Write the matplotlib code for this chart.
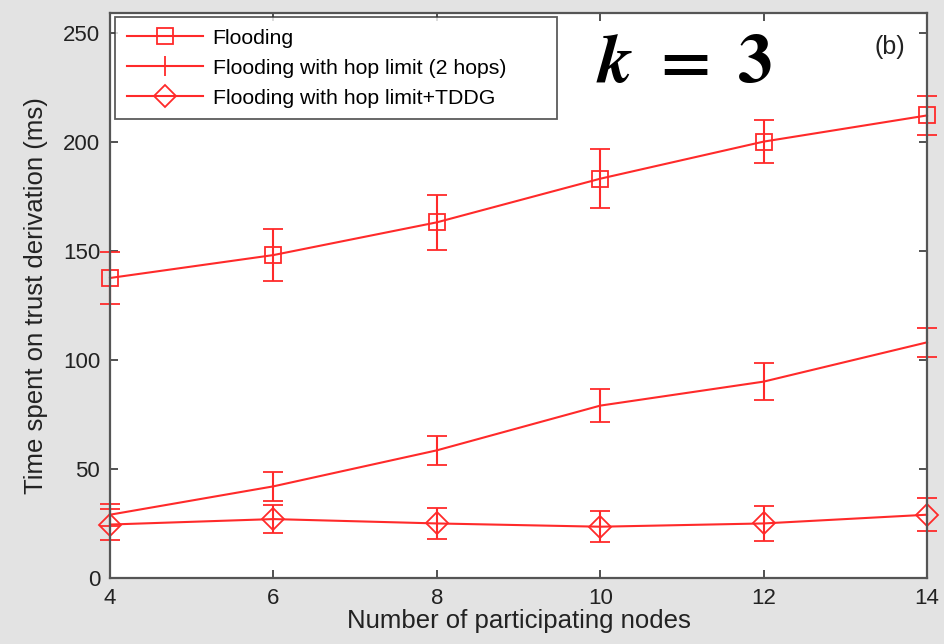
import matplotlib.pyplot as plt
import numpy as np

plt.rcParams['font.family'] = ['Liberation Sans', 'DejaVu Sans']
plt.rcParams['mathtext.fontset'] = 'stix'

# data
nodes = [4, 6, 8, 10, 12, 14]

flood = [137.5, 148, 163, 183, 200, 212]
flood_err = [12, 12, 12.5, 13.5, 10, 9]

hop = [29, 42, 58.5, 79, 90, 108]
hop_err = [5, 6.5, 6.5, 7.5, 8.5, 6.5]

tddg = [24.5, 27, 25, 23.5, 25, 29]
tddg_err = [7, 6.5, 7, 7, 8, 7.5]

labels = ['Flooding', 'Flooding with hop limit (2 hops)', 'Flooding with hop limit+TDDG']

red = '#ff2a2a'

fig = plt.figure(figsize=(9.45, 6.44), dpi=100)
fig.patch.set_facecolor('#e3e3e3')
ax = fig.add_axes([0.1164, 0.1025, 0.8646, 0.8775])

ax.errorbar(nodes, flood, yerr=flood_err, color=red, lw=1.5, marker='s', ms=11,
            mfc='none', mec=red, mew=1.3, capsize=7, capthick=1.5, elinewidth=1.5,
            label=labels[0], clip_on=False)
ax.errorbar(nodes, hop, yerr=hop_err, color=red, lw=1.5, marker='|', ms=14,
            mew=1.3, capsize=7, capthick=1.5, elinewidth=1.5,
            label=labels[1], clip_on=False)
ax.errorbar(nodes, tddg, yerr=tddg_err, color=red, lw=1.5, marker='D', ms=11,
            mfc='none', mec=red, mew=1.3, capsize=7, capthick=1.5, elinewidth=1.5,
            label=labels[2], clip_on=False)

ax.set_xlim(4, 14)
ax.set_ylim(0, 259)
ax.set_xticks(nodes)
ax.set_yticks([0, 50, 100, 150, 200, 250])
ax.tick_params(direction='in', top=True, right=True, length=6, width=1.2,
               labelsize=16, color='#333333', labelcolor='#222222', pad=7)
for s in ax.spines.values():
    s.set_color('#555555')
    s.set_linewidth(1.6)

ax.set_xlabel('Number of participating nodes', fontsize=18.5, color='#222222', labelpad=0)
ax.set_ylabel('Time spent on trust derivation (ms)', fontsize=18.5, color='#222222')
ax.yaxis.set_label_coords(-0.076, 0.5)

# legend without error bar handles
handles, labs = ax.get_legend_handles_labels()
handles = [h[0] for h in handles]
leg = ax.legend(handles, labs, loc='upper left', bbox_to_anchor=(0.006, 0.0, 0.541, 0.993),
                mode='expand', borderaxespad=0, fontsize=15.3, frameon=True,
                fancybox=False, edgecolor='#333333', handlelength=3.6,
                handletextpad=0.45, labelspacing=0.52, borderpad=0.55)
leg.get_frame().set_linewidth(1.3)

ax.text(0.973, 0.94, '(b)', transform=ax.transAxes, fontsize=18, color='#222222',
        ha='right', va='center')
ax.text(0.595, 0.91, r'$\mathbfit{k}\ \mathbf{=}\ \mathbf{3}$', transform=ax.transAxes,
        fontsize=50, ha='left', va='center', color='black')

fig.savefig('out.png', dpi=100, facecolor=fig.get_facecolor())
